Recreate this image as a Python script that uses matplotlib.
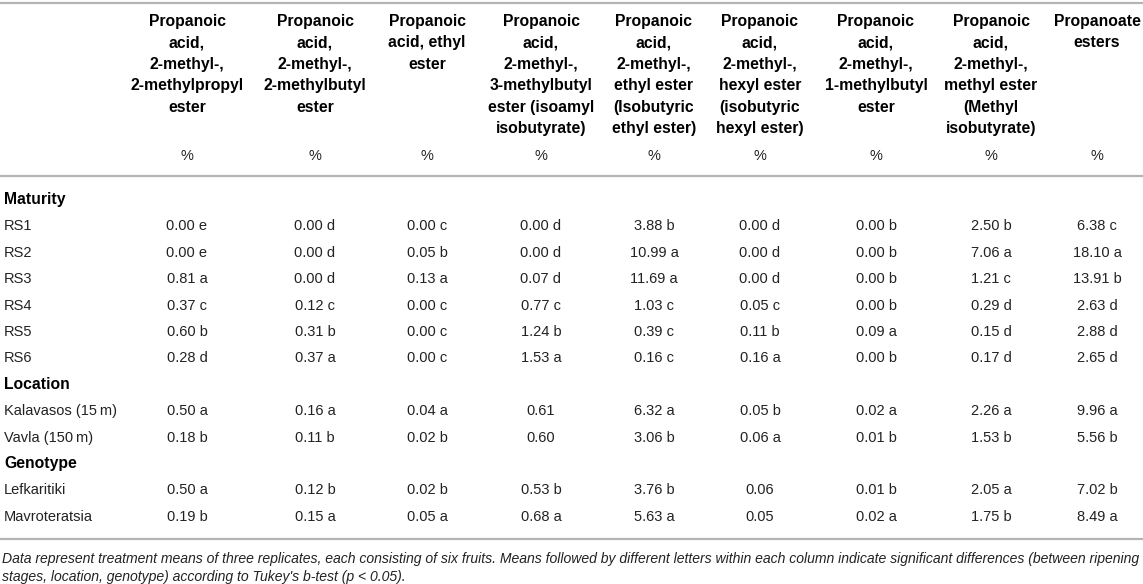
import matplotlib.pyplot as plt

plt.rcParams['font.family'] = ['Liberation Sans', 'DejaVu Sans']

# column headers (one list of lines per column)
headers = [
    ['Propanoic', 'acid,', '2-methyl-,', '2-methylpropyl', 'ester'],
    ['Propanoic', 'acid,', '2-methyl-,', '2-methylbutyl', 'ester'],
    ['Propanoic', 'acid, ethyl', 'ester'],
    ['Propanoic', 'acid,', '2-methyl-,', '3-methylbutyl', 'ester (isoamyl', 'isobutyrate)'],
    ['Propanoic', 'acid,', '2-methyl-,', 'ethyl ester', '(Isobutyric', 'ethyl ester)'],
    ['Propanoic', 'acid,', '2-methyl-,', 'hexyl ester', '(isobutyric', 'hexyl ester)'],
    ['Propanoic', 'acid,', '2-methyl-,', '1-methylbutyl', 'ester'],
    ['Propanoic', 'acid,', '2-methyl-,', 'methyl ester', '(Methyl', 'isobutyrate)'],
    ['Propanoate', 'esters'],
]
unit = '%'

groups = ['Maturity', 'Location', 'Genotype']
maturity_rows = ['RS1', 'RS2', 'RS3', 'RS4', 'RS5', 'RS6']
location_rows = ['Kalavasos (15\u2009m)', 'Vavla (150\u2009m)']
genotype_rows = ['Lefkaritiki', 'Mavroteratsia']

maturity_vals = [
    [0.00, 0.00, 0.00, 0.00, 3.88, 0.00, 0.00, 2.50, 6.38],
    [0.00, 0.00, 0.05, 0.00, 10.99, 0.00, 0.00, 7.06, 18.10],
    [0.81, 0.00, 0.13, 0.07, 11.69, 0.00, 0.00, 1.21, 13.91],
    [0.37, 0.12, 0.00, 0.77, 1.03, 0.05, 0.00, 0.29, 2.63],
    [0.60, 0.31, 0.00, 1.24, 0.39, 0.11, 0.09, 0.15, 2.88],
    [0.28, 0.37, 0.00, 1.53, 0.16, 0.16, 0.00, 0.17, 2.65],
]
maturity_letters = [
    ['e', 'd', 'c', 'd', 'b', 'd', 'b', 'b', 'c'],
    ['e', 'd', 'b', 'd', 'a', 'd', 'b', 'a', 'a'],
    ['a', 'd', 'a', 'd', 'a', 'd', 'b', 'c', 'b'],
    ['c', 'c', 'c', 'c', 'c', 'c', 'b', 'd', 'd'],
    ['b', 'b', 'c', 'b', 'c', 'b', 'a', 'd', 'd'],
    ['d', 'a', 'c', 'a', 'c', 'a', 'b', 'd', 'd'],
]
location_vals = [
    [0.50, 0.16, 0.04, 0.61, 6.32, 0.05, 0.02, 2.26, 9.96],
    [0.18, 0.11, 0.02, 0.60, 3.06, 0.06, 0.01, 1.53, 5.56],
]
location_letters = [
    ['a', 'a', 'a', '', 'a', 'b', 'a', 'a', 'a'],
    ['b', 'b', 'b', '', 'b', 'a', 'b', 'b', 'b'],
]
genotype_vals = [
    [0.50, 0.12, 0.02, 0.53, 3.76, 0.06, 0.01, 2.05, 7.02],
    [0.19, 0.15, 0.05, 0.68, 5.63, 0.05, 0.02, 1.75, 8.49],
]
genotype_letters = [
    ['a', 'b', 'b', 'b', 'b', '', 'b', 'a', 'b'],
    ['b', 'a', 'a', 'a', 'a', '', 'a', 'b', 'a'],
]

footnote = [
    "Data represent treatment means of three replicates, each consisting of six fruits. "
    "Means followed by different letters within each column indicate significant differences (between ripening",
    "stages, location, genotype) according to Tukey's b-test (p < 0.05).",
]

W, H = 1143, 584
fig = plt.figure(figsize=(W / 100, H / 100), dpi=100)
ax = fig.add_axes([0, 0, 1, 1])
ax.set_xlim(0, W)
ax.set_ylim(H, 0)
ax.axis('off')

col_x = [187, 315, 427, 541, 654, 760, 876, 991, 1097]
line_col = '#b4b4b4'
txt_col = '#222222'

for y in (3, 176, 539):
    ax.plot([0, W], [y, y], color=line_col, lw=1.6, solid_capstyle='butt')

# header
for x, lines in zip(col_x, headers):
    for i, s in enumerate(lines):
        ax.text(x, 26 + i * 21.4, s, ha='center', va='baseline',
                fontsize=11.3, fontweight='bold', color='black')
    ax.text(x, 160, unit, ha='center', va='baseline', fontsize=10.5, color=txt_col)

blocks = [
    (groups[0], maturity_rows, maturity_vals, maturity_letters),
    (groups[1], location_rows, location_vals, location_letters),
    (groups[2], genotype_rows, genotype_vals, genotype_letters),
]
row_h = 26.4
y = 204
for name, rows, vals, letters in blocks:
    ax.text(4, y, name, ha='left', va='baseline', fontsize=11.3,
            fontweight='bold', color='black')
    y += row_h
    for label, rv, rl in zip(rows, vals, letters):
        ax.text(4, y, label, ha='left', va='baseline', fontsize=10.5, color=txt_col)
        for x, v, l in zip(col_x, rv, rl):
            s = f'{v:.2f}' + (f' {l}' if l else '')
            ax.text(x, y, s, ha='center', va='baseline', fontsize=10.5, color=txt_col)
        y += row_h

for i, s in enumerate(footnote):
    ax.text(2, 563 + i * 18, s, ha='left', va='baseline', fontsize=10.1,
            style='italic', color=txt_col)

fig.savefig('out.png', dpi=100)
